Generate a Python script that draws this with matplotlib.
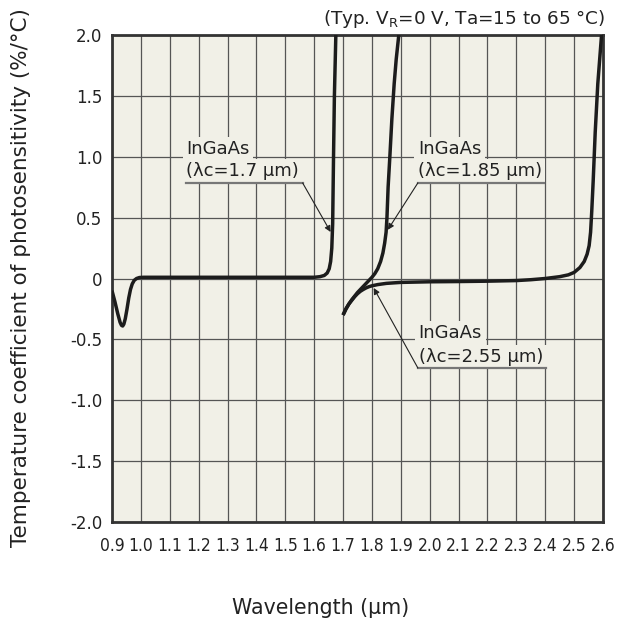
import matplotlib
matplotlib.use("Agg")
import matplotlib.pyplot as plt
import numpy as np

# ---- data ----
x_17 = [0.900, 0.910, 0.920, 0.928, 0.933, 0.937, 0.941, 0.946, 0.952, 0.958, 0.964, 0.970,
        0.977, 0.985, 0.995, 1.01, 1.10, 1.30, 1.50, 1.60, 1.62, 1.635, 1.645, 1.652, 1.657,
        1.661, 1.664, 1.667, 1.670, 1.675]
y_17 = [-0.10, -0.19, -0.29, -0.36, -0.385, -0.39, -0.375, -0.33, -0.25, -0.16, -0.09, -0.045,
        -0.015, 0.0, 0.008, 0.01, 0.01, 0.01, 0.01, 0.01, 0.015, 0.025, 0.045, 0.08, 0.14,
        0.25, 0.45, 1.0, 1.5, 2.0]

x_185 = [1.700, 1.71, 1.72, 1.73, 1.74, 1.75, 1.76, 1.77, 1.78, 1.79, 1.80, 1.81, 1.82, 1.83,
         1.838, 1.844, 1.849, 1.852, 1.856, 1.862, 1.869, 1.877, 1.884, 1.893]
y_185 = [-0.30, -0.25, -0.21, -0.175, -0.145, -0.115, -0.09, -0.065, -0.04, -0.015, 0.01, 0.04,
         0.08, 0.14, 0.21, 0.29, 0.38, 0.50, 0.75, 1.0, 1.31, 1.60, 1.80, 2.0]

x_255 = [1.700, 1.71, 1.72, 1.73, 1.74, 1.75, 1.76, 1.77, 1.78, 1.79, 1.80, 1.82, 1.85, 1.90,
         2.00, 2.10, 2.20, 2.30, 2.35, 2.40, 2.45, 2.48, 2.50, 2.52, 2.535, 2.545, 2.552, 2.557,
         2.561, 2.566, 2.573, 2.582, 2.595]
y_255 = [-0.30, -0.25, -0.21, -0.18, -0.15, -0.125, -0.105, -0.09, -0.077, -0.067, -0.06, -0.05,
         -0.04, -0.032, -0.027, -0.025, -0.022, -0.017, -0.01, 0.0, 0.015, 0.03, 0.05, 0.09,
         0.14, 0.20, 0.27, 0.38, 0.55, 0.80, 1.20, 1.60, 2.0]

x_ticks = [0.9, 1.0, 1.1, 1.2, 1.3, 1.4, 1.5, 1.6, 1.7, 1.8, 1.9, 2.0, 2.1, 2.2, 2.3, 2.4, 2.5, 2.6]
x_tick_labels = ["0.9", "1.0", "1.1", "1.2", "1.3", "1.4", "1.5", "1.6", "1.7", "1.8", "1.9",
                 "2.0", "2.1", "2.2", "2.3", "2.4", "2.5", "2.6"]
y_ticks = [2.0, 1.5, 1.0, 0.5, 0.0, -0.5, -1.0, -1.5, -2.0]
y_tick_labels = ["2.0", "1.5", "1.0", "0.5", "0", "-0.5", "-1.0", "-1.5", "-2.0"]

label_top = ["InGaAs", "InGaAs", "InGaAs"]
label_bottom = ["(λc=1.7 µm)", "(λc=1.85 µm)", "(λc=2.55 µm)"]

# ---- figure ----
W, H = 617, 626
fig = plt.figure(figsize=(W / 100, H / 100), dpi=100)
L, R, T, B = 112, 603, 35, 522
ax = fig.add_axes([L / W, 1 - B / H, (R - L) / W, (B - T) / H])
bg = "#f1f0e7"
ax.set_facecolor(bg)
tc = "#222222"

ax.set_xlim(0.9, 2.6)
ax.set_ylim(-2.0, 2.0)
ax.set_xticks(x_ticks)
ax.set_xticklabels(x_tick_labels, fontsize=12.5, family="DejaVu Sans", fontstretch="condensed")
ax.set_yticks(y_ticks)
ax.set_yticklabels(y_tick_labels, fontsize=12)
ax.tick_params(length=0, pad=7, colors=tc)
ax.tick_params(axis="x", pad=10.5)
ax.grid(True, color="#555555", linewidth=0.9)
ax.set_axisbelow(True)
for s in ax.spines.values():
    s.set_linewidth(2.0)
    s.set_color("#333333")

lc = "#1c1c1c"
for xs, ys in [(x_17, y_17), (x_185, y_185), (x_255, y_255)]:
    ax.plot(xs, ys, color=lc, linewidth=2.5, solid_capstyle="butt", zorder=3)

# ---- annotations ----
def label(t1, t2, x0, yb1, yb2, x_ul0, x_ul1, y_ul, start, tip):
    for t, yb in [(t1, yb1), (t2, yb2)]:
        ax.text(x0, yb, t, fontsize=13, color=tc, va="baseline", ha="left", zorder=4,
                bbox=dict(facecolor=bg, edgecolor="none", pad=2.5))
    ax.plot([x_ul0, x_ul1], [y_ul, y_ul], color="#777777", linewidth=1.6, zorder=5)
    ax.annotate("", xy=tip, xytext=start,
                arrowprops=dict(arrowstyle="-|>", color=tc, lw=0.8,
                                mutation_scale=9, shrinkA=0, shrinkB=0), zorder=5)

label(label_top[0], label_bottom[0], 1.157, 1.022, 0.838, 1.157, 1.560, 0.785,
      (1.560, 0.785), (1.657, 0.382))
label(label_top[1], label_bottom[1], 1.959, 1.022, 0.838, 1.959, 2.397, 0.785,
      (1.959, 0.785), (1.855, 0.40))
label(label_top[2], label_bottom[2], 1.962, -0.489, -0.686, 1.959, 2.402, -0.735,
      (1.959, -0.735), (1.806, -0.078))

# ---- titles ----
fig.text(321 / W, 1 - 608 / H, "Wavelength (µm)", fontsize=14.8, ha="center", va="center",
         color=tc)
fig.text(21 / W, 1 - 278 / H, "Temperature coefficient of photosensitivity (%/°C)",
         fontsize=15.5, rotation=90, ha="center", va="center", color=tc)
fig.text(605 / W, 1 - 19 / H, r"(Typ. V$_\mathregular{R}$=0 V, Ta=15 to 65 °C)",
         fontsize=13.2, ha="right", va="center", color=tc)

fig.savefig("out.png", dpi=100, facecolor="white")
